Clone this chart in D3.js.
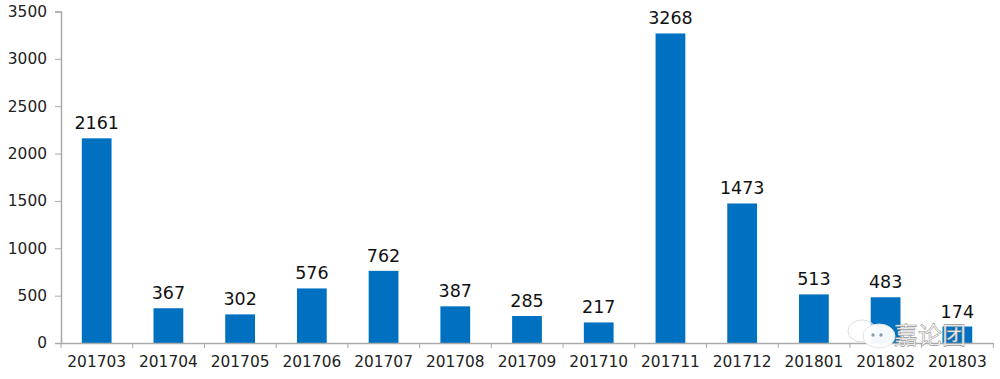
<!DOCTYPE html>
<html>
<head>
<meta charset="utf-8">
<script src="https://cdn.jsdelivr.net/npm/d3@7"></script>
<style>
html, body { margin: 0; padding: 0; background: #fff; }
svg { display: block; font-family: "DejaVu Sans", sans-serif; }
</style>
</head>
<body>
<div id="chart"></div>
<script>
const months = ['201703', '201704', '201705', '201706', '201707', '201708', '201709', '201710', '201711', '201712', '201801', '201802', '201803'];
const counts = [2161, 367, 302, 576, 762, 387, 285, 217, 3268, 1473, 513, 483, 174];
const yTicks = [0, 500, 1000, 1500, 2000, 2500, 3000, 3500];

const width = 1000, height = 379;
const margin = { top: 11.5, right: 7, bottom: 36, left: 61 };

const svg = d3.select('#chart').append('svg')
    .attr('width', width)
    .attr('height', height);

const x = d3.scaleBand()
    .domain(months)
    .range([margin.left, width - margin.right])
    .paddingInner(0.585)
    .paddingOuter(0.29);

const y = d3.scaleLinear()
    .domain([0, 3500])
    .range([height - margin.bottom, margin.top]);

// bars first, axes on top
svg.selectAll('.bar')
    .data(months)
    .enter().append('rect')
    .attr('class', 'bar')
    .attr('x', d => x(d))
    .attr('y', (d, i) => y(counts[i]))
    .attr('width', x.bandwidth())
    .attr('height', (d, i) => y(0) - y(counts[i]))
    .attr('fill', '#0070c0');

const yAxis = svg.append('g')
    .attr('transform', `translate(${margin.left},0)`)
    .call(d3.axisLeft(y).tickValues(yTicks).tickSize(6).tickPadding(8).tickFormat(d3.format('d')));

// x axis ticks sit between the categories, so they are drawn by hand from the band scale
const step = x.step();
const xAxis = svg.append('g')
    .attr('transform', `translate(0,${y(0)})`)
    .call(d3.axisBottom(x).tickSize(0).tickPadding(13));

xAxis.selectAll('.sep')
    .data(d3.range(months.length + 1))
    .enter().append('line')
    .attr('class', 'sep')
    .attr('x1', i => margin.left + i * step)
    .attr('x2', i => margin.left + i * step)
    .attr('y1', 0)
    .attr('y2', 5)
    .attr('stroke', '#aaa');

[yAxis, xAxis].forEach(g => {
    g.selectAll('.domain').attr('stroke', '#aaa').attr('stroke-width', 1.5);
    g.selectAll('.tick line').attr('stroke', '#aaa');
    g.selectAll('text').attr('fill', '#222').style('font-size', '15.4px').style('font-family', '"DejaVu Sans", sans-serif');
});

svg.selectAll('.label')
    .data(months)
    .enter().append('text')
    .attr('class', 'label')
    .attr('x', d => x(d) + x.bandwidth() / 2)
    .attr('y', (d, i) => y(counts[i]) - 9)
    .attr('text-anchor', 'middle')
    .attr('fill', '#111')
    .style('font-size', '17.5px')
    .text((d, i) => counts[i]);

// watermark
const mark = svg.append('g');
mark.append('ellipse').attr('cx', 862).attr('cy', 331).attr('rx', 14).attr('ry', 11)
    .attr('fill', '#fff').attr('fill-opacity', 0.55).attr('stroke', '#ddd');
mark.append('ellipse').attr('cx', 879).attr('cy', 336).attr('rx', 16).attr('ry', 12)
    .attr('fill', '#fff').attr('fill-opacity', 0.95).attr('stroke', '#e4e4e4');
mark.selectAll('.eye')
    .data([873, 881])
    .enter().append('circle')
    .attr('class', 'eye')
    .attr('cx', d => d)
    .attr('cy', 335)
    .attr('r', 1.7)
    .attr('fill', '#8a9bb0');
mark.append('text')
    .attr('x', 894)
    .attr('y', 344)
    .attr('fill', '#fff')
    .attr('stroke', '#999')
    .attr('stroke-width', 0.6)
    .style('font-family', '"Noto Sans CJK SC"')
    .style('font-size', '24px')
    .text('嘉论团');
</script>
</body>
</html>
